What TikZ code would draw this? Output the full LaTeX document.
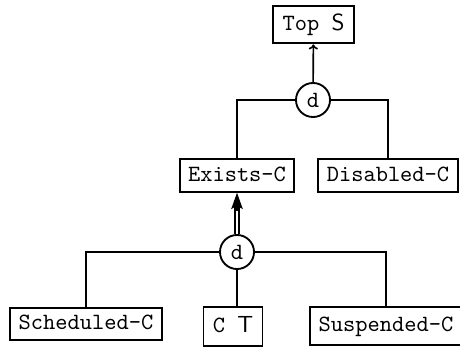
\documentclass[tikz,border=0pt]{standalone}
\usetikzlibrary{arrows.meta}
\begin{document}
\begin{tikzpicture}[x=0.429pt,y=-0.429pt,
  box/.style={draw, line width=0.85pt, font=\ttfamily, inner xsep=3.6pt, inner ysep=2.5pt, text height=7pt, text depth=2pt},
  disc/.style={draw, circle, line width=0.8pt, font=\ttfamily, minimum size=14.6pt, inner sep=0pt},
  conn/.style={line width=0.7pt}]
\useasboundingbox (0,0) rectangle (460,349);
\node[box, inner ysep=3.6pt, inner xsep=4.2pt] (top) at (313.5,24.5) {Top {\sffamily S}};
\node[disc] (d1) at (313,100) {d};
\node[box] (exists) at (237,175.5) {Exists-C};
\node[box] (disabled) at (388,175.5) {Disabled-C};
\node[disc] (d2) at (237,252) {d};
\node[box] (sched) at (86,324) {Scheduled-C};
\node[box, inner ysep=3.8pt, inner xsep=4pt] (ct) at (233,326.5) {C {\sffamily T}};
\node[box, inner ysep=3.6pt] (susp) at (386,326) {Suspended-C};
\draw[conn] (d1.west) -| (exists.north);
\draw[conn] (d1.east) -| (disabled.north);
\draw[conn,-{To[length=2.2pt,width=4pt]}] (d1) -- (top);
\draw[line width=0.6pt, double, double distance=1.2pt, shorten >=5pt] (d2) -- (exists);
\draw[line width=0.5pt, shorten <=10pt, -{Stealth[length=7pt,width=5pt,inset=1.5pt]}] (d2) -- (exists);
\draw[conn] (d2.west) -| (sched.north);
\draw[conn] (d2.east) -| (susp.north);
\draw[conn] (d2.south) -- (d2 |- ct.north);
\end{tikzpicture}
\end{document}
